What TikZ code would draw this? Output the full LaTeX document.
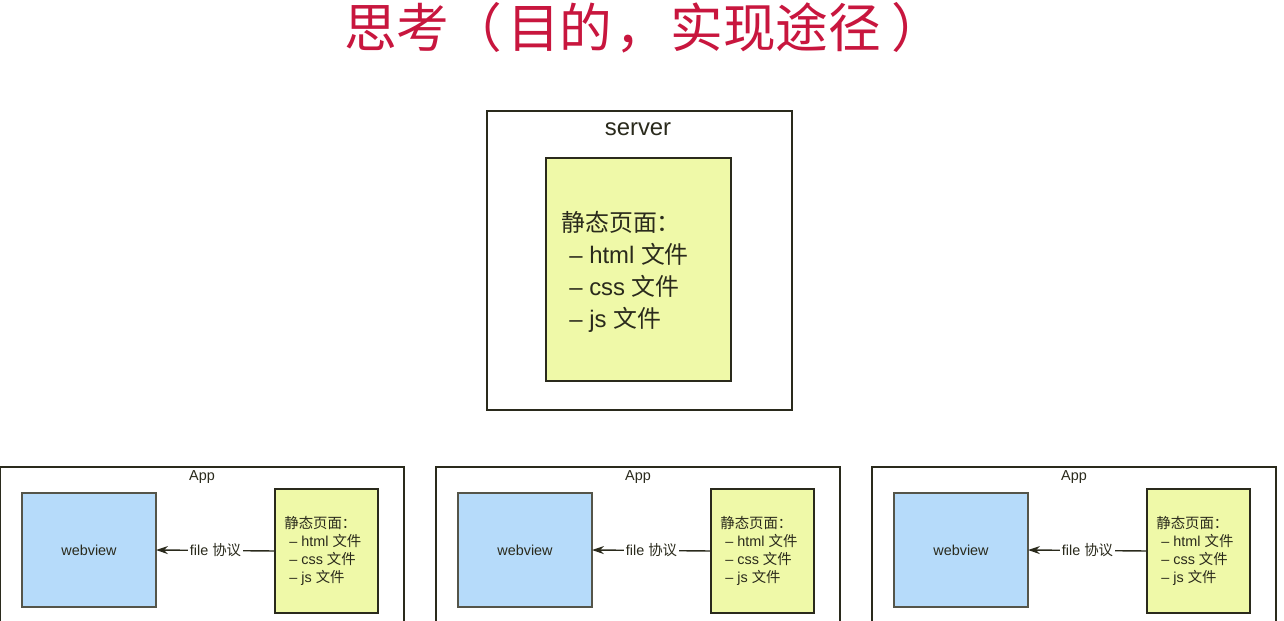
\documentclass[tikz,border=0pt]{standalone}
\usepackage{fontspec}
\setmainfont{Liberation Sans}
\newfontfamily\cjk{Noto Sans CJK SC}
\usetikzlibrary{positioning,arrows.meta}
\definecolor{titlered}{HTML}{C8163E}
\definecolor{pageyellow}{HTML}{EFF9A8}
\definecolor{viewblue}{HTML}{B6DBFA}
\definecolor{boxfg}{HTML}{2A2A1C}
\begin{document}
\begin{tikzpicture}[x=0.02cm,y=-0.02cm,>={Stealth[length=0.24cm,width=0.16cm]}]
  \tikzstyle{frame}=[draw=boxfg, inner sep=0pt, outer sep=0pt]
  \tikzstyle{pagebox}=[frame, fill=pageyellow]
  \tikzstyle{viewbox}=[frame, fill=viewblue, draw=boxfg!80]
  \tikzstyle{small}=[font=\fontsize{8.2}{10.2}\selectfont, text=boxfg]
  \tikzstyle{big}=[font=\fontsize{13.6}{18.2}\selectfont, text=boxfg]
  \useasboundingbox[fill=white] (0,0) rectangle (1284,621);

  \node[font=\cjk\fontsize{30}{32}\selectfont, text=titlered, inner sep=0pt] (title) at (644,28)
    {思考（\hspace{0.1cm}目的\hspace{0.05cm}，\hspace{0.05cm}实现途径\hspace{0.2cm}）};

  % server with its static pages
  \node[frame, line width=1.4pt, minimum width=6.10cm, minimum height=5.98cm] (server) at (639.5,260.5) {};
  \node[big] (serverlabel) at (638,129) {server};
  \node[pagebox, line width=1.1pt, minimum width=3.70cm, minimum height=4.46cm] (page) at (638.5,269.5) {};
  \node[big, align=left, anchor=west, inner sep=0pt] (pagetext) at (561,272)
    {{\cjk 静态页面：}\\\hspace{0.16cm}– html {\cjk 文件}\\\hspace{0.16cm}– css {\cjk 文件}\\\hspace{0.16cm}– js {\cjk 文件}};

  % three apps loading pages over file
  \foreach \i/\off in {1/0,2/436,3/872} {
    \node[frame, line width=0.8pt, minimum width=8.08cm, minimum height=3.46cm] (app\i) at (202+\off,553.5) {};
    \node[small] (applabel\i) at (202+\off,477) {App};
    \node[viewbox, line width=0.8pt, minimum width=2.68cm, minimum height=2.28cm] (web\i) at (89+\off,550) {};
    \node[small] (webtext\i) at (web\i) {webview};
    \node[pagebox, line width=0.8pt, minimum width=2.06cm, minimum height=2.48cm] (page\i) at (326.5+\off,551) {};
    \node[small, align=left, anchor=west, inner sep=0pt] (pagetext\i) at (284+\off,551)
      {{\cjk 静态页面：}\\\hspace{0.1cm}– html {\cjk 文件}\\\hspace{0.1cm}– css {\cjk 文件}\\\hspace{0.1cm}– js {\cjk 文件}};
    \draw[->, draw=boxfg, line width=0.8pt] (page\i.west) -- node[small, fill=white, inner sep=1pt] (proto\i) {file {\cjk 协议}} (web\i.east);
  }
\end{tikzpicture}
\end{document}
